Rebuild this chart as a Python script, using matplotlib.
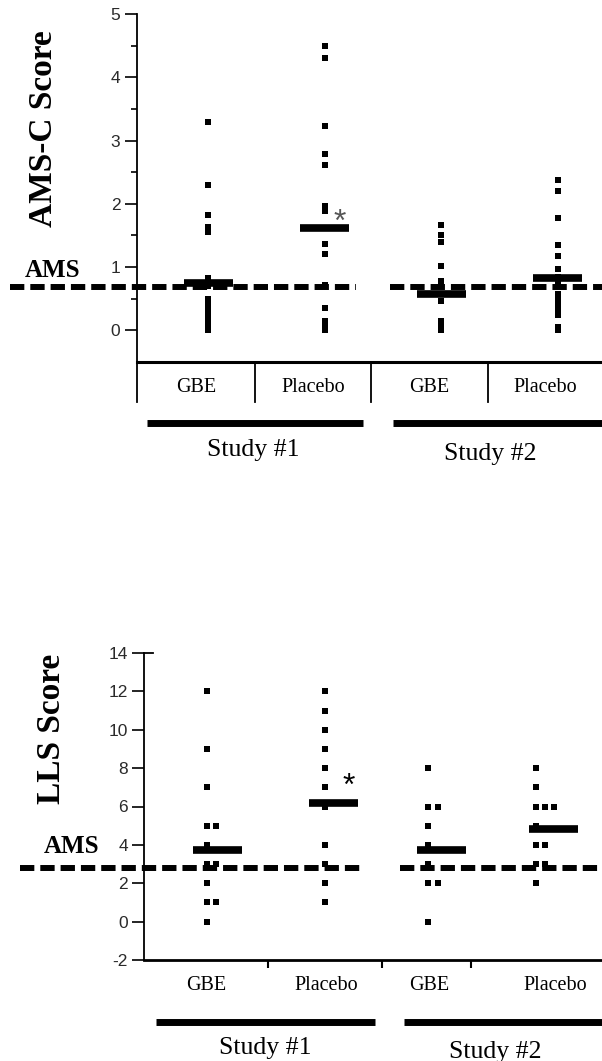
import matplotlib
matplotlib.use("Agg")
import matplotlib.pyplot as plt
import numpy as np

plt.rcParams["font.family"] = "Liberation Serif"
plt.rcParams["axes.unicode_minus"] = False

# values
groups = ["GBE", "Placebo", "GBE", "Placebo"]
studies = ["Study #1", "Study #2"]

amsc_gbe1 = [3.3, 2.3, 1.83, 1.63, 1.55, 0.83, 0.75, 0.7, 0.5, 0.45, 0.4, 0.33, 0.25, 0.15, 0.08, 0.0]
amsc_plac1 = [4.5, 4.3, 3.23, 2.78, 2.62, 1.97, 1.88, 1.37, 1.21, 0.72, 0.35, 0.15, 0.08, 0.0]
amsc_gbe2 = [1.66, 1.5, 1.4, 1.01, 0.78, 0.7, 0.58, 0.47, 0.15, 0.08, 0.0]
amsc_plac2 = [2.37, 2.21, 1.78, 1.35, 1.17, 0.97, 0.85, 0.78, 0.72, 0.58, 0.5, 0.42, 0.33, 0.25, 0.05, 0.0]
amsc_mean = [0.75, 1.61, 0.58, 0.82]
amsc_cutoff = 0.68

lls_gbe1 = [12, 9, 7, 5, 5, 4, 3, 3, 2, 1, 1, 0]
lls_plac1 = [12, 11, 10, 9, 8, 7, 6, 4, 3, 2, 1]
lls_gbe2 = [8, 6, 6, 5, 4, 3, 2, 2, 0]
lls_plac2 = [8, 7, 6, 6, 6, 5, 4, 4, 3, 3, 2]
lls_mean = [3.75, 6.2, 3.74, 4.83]
lls_cutoff = 2.8


def dodge(vals, step):
    """shift repeated values sideways so they sit next to each other"""
    seen = {}
    out = []
    for v in vals:
        k = seen.get(v, 0)
        out.append(k * step)
        seen[v] = k + 1
    return np.array(out)


def draw_panel(ax, cols, means, cutoff, pos, bar_pos, lab_pos, lab_y,
               study_bars, study_x, study_y, bar_y, ams_segs, xlim):
    for x, vals in zip(pos, cols):
        vals = np.array(vals, dtype=float)
        ax.plot(x + dodge(vals, 0.08), vals, "s", color="black", ms=4.2,
                mew=0, zorder=3, clip_on=False)
    hw = 0.21
    for x, m in zip(bar_pos, means):
        ax.plot([x - hw, x + hw], [m, m], color="black", lw=5.5,
                solid_capstyle="butt", zorder=4)
    for x0, x1 in ams_segs:
        ax.plot([x0, x1], [cutoff, cutoff], color="black", lw=4.3,
                ls=(0, (2.4, 1.0)), clip_on=False, zorder=5)

    tr = ax.get_xaxis_transform()
    for x, g in zip(lab_pos, groups):
        ax.text(x, lab_y, g, transform=tr, ha="center", va="baseline", fontsize=14.5)
    for (x0, x1), sx, sy, s in zip(study_bars, study_x, study_y, studies):
        ax.plot([x0, x1], [bar_y, bar_y], transform=tr, color="black", lw=5,
                solid_capstyle="butt", clip_on=False)
        ax.text(sx, sy, s, transform=tr, ha="center", va="baseline", fontsize=18.5)

    ax.set_xlim(*xlim)
    for side in ("top", "right"):
        ax.spines[side].set_visible(False)
    ax.spines["left"].set_linewidth(1.3)
    ax.spines["bottom"].set_linewidth(2.2)
    for lbl in ax.get_yticklabels():
        lbl.set_fontfamily("Liberation Sans")
    ax.tick_params(axis="y", labelsize=12.5, labelcolor="#2a2a2a", width=1.2, pad=3)


fig = plt.figure(figsize=(6.02, 10.61), dpi=100)

# top panel: AMS-C
ax1 = fig.add_axes([137 / 602, 1 - 362 / 1061, 465 / 602, 348 / 1061])
ax1.set_ylim(-0.5, 5)
ax1.set_yticks(np.arange(0, 6, 1))
ax1.set_yticks(np.arange(0.5, 5, 1), minor=True)
ax1.tick_params(axis="y", which="major", length=9)
ax1.tick_params(axis="y", which="minor", length=4.5, width=1.2)
ax1.set_xticks([])
xl1 = (0.39, 4.38)
seps1 = [0.39, 1.4, 2.4, 3.4]
edges1 = seps1 + [xl1[1]]
lab1 = [(a + b) / 2 for a, b in zip(edges1[:-1], edges1[1:])]
draw_panel(ax1, [amsc_gbe1, amsc_plac1, amsc_gbe2, amsc_plac2], amsc_mean, amsc_cutoff,
           pos=[1, 2, 3, 4], bar_pos=[1, 2, 3, 4], lab_pos=lab1,
           lab_y=-0.085, study_bars=[(0.48, 2.33), (2.59, 4.38)],
           study_x=[1.39, 3.42], study_y=[-0.270, -0.281], bar_y=-0.175,
           ams_segs=[(-0.70, 2.27), (2.56, 4.38)], xlim=xl1)
tr1 = ax1.get_xaxis_transform()
for s in seps1:
    ax1.plot([s, s], [0, -0.115], transform=tr1, color="black", lw=1.3, clip_on=False)
ax1.set_ylabel("AMS-C Score", fontsize=24, fontweight="bold")
ax1.yaxis.set_label_coords(-0.168, 0.672)
ax1.text(-0.181, 0.244, "AMS", transform=ax1.transAxes, ha="center", va="baseline",
         fontsize=18, fontweight="bold")
ax1.text(2.133, 1.70, "*", ha="center", va="center", fontsize=23,
         family="Liberation Sans", color="#555555")

# bottom panel: LLS
ax2 = fig.add_axes([144 / 602, 1 - 960 / 1061, 458 / 602, 307 / 1061])
ax2.set_ylim(-2, 14)
ax2.set_yticks(np.arange(-2, 15, 2))
ax2.tick_params(axis="y", length=8.5)
seps2 = [1.52, 2.5, 3.27]
ax2.set_xticks(seps2)
ax2.set_xticklabels([])
ax2.tick_params(axis="x", length=6, width=1.5, direction="out")
draw_panel(ax2, [lls_gbe1, lls_plac1, lls_gbe2, lls_plac2], lls_mean, lls_cutoff,
           pos=[1.0, 2.01, 2.9, 3.82], bar_pos=[1.09, 2.09, 3.01, 3.97],
           lab_pos=[0.99, 2.02, 2.91, 3.99], lab_y=-0.098,
           study_bars=[(0.56, 2.44), (2.69, 4.39)], study_x=[1.50, 3.47],
           study_y=[-0.306, -0.319], bar_y=-0.202,
           ams_segs=[(-0.60, 2.36), (2.66, 4.39)], xlim=(0.46, 4.39))
ax2.spines["bottom"].set_linewidth(2.0)
# small cap at the top of the LLS axis
ax2.plot([0, 0.02], [14, 14], transform=ax2.get_yaxis_transform(), color="black",
         lw=1.3, clip_on=False)
ax2.set_ylabel("LLS Score", fontsize=24, fontweight="bold")
ax2.yaxis.set_label_coords(-0.168, 0.752)
ax2.text(-0.159, 0.349, "AMS", transform=ax2.transAxes, ha="center", va="baseline",
         fontsize=18, fontweight="bold")
ax2.text(2.219, 7.0, "*", ha="center", va="center", fontsize=23,
         family="Liberation Sans", color="black")

fig.savefig("out.png", dpi=100)
